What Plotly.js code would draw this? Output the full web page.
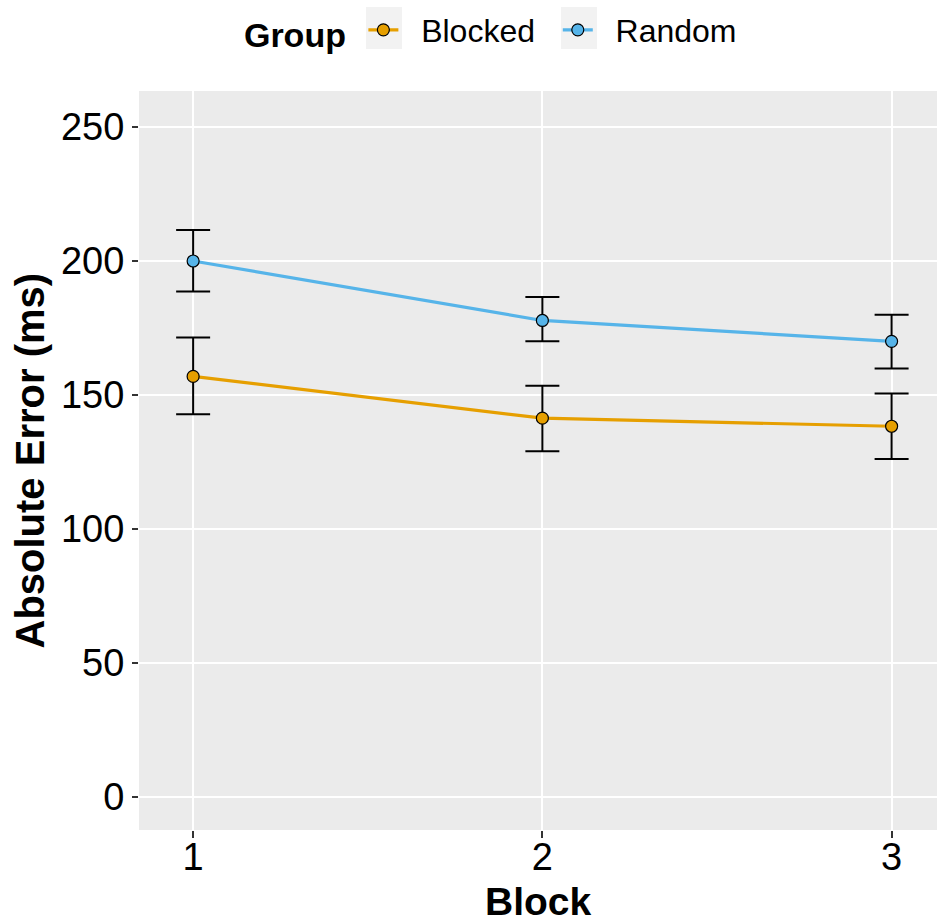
<!DOCTYPE html>
<html>
<head>
<meta charset="utf-8">
<script src="https://cdn.plot.ly/plotly-3.0.1.min.js"></script>
<style>html,body{margin:0;padding:0;background:#fff;}#chart{width:941px;height:922px;}</style>
</head>
<body>
<div id="chart"></div>
<script>
// Data
const blocks = [1, 2, 3];
const blockedMean = [156.9, 141.3, 138.3];
const blockedUpper = [171.4, 153.4, 150.5];
const blockedLower = [142.8, 129.0, 126.1];
const randomMean = [200.0, 177.8, 170.0];
const randomUpper = [211.6, 186.6, 179.9];
const randomLower = [188.6, 170.0, 159.9];
const yTicks = [0, 50, 100, 150, 200, 250];
const xTicks = [1, 2, 3];
const groupNames = ['Blocked', 'Random'];

const FONT = '"Liberation Sans", Arial, sans-serif';
const NB = '\u00a0';
const W = 941, H = 922, ML = 139, MR = 4, MT = 90, MB = 92;
const PW = W - ML - MR, PH = H - MT - MB;
const px2x = p => (p - ML) / PW;
const px2y = p => (H - MB - p) / PH;

function mkTrace(name, color, mean, upper, lower) {
  return {
    x: blocks, y: mean, name: NB + NB + name + NB + NB, type: 'scatter', mode: 'lines+markers',
    line: {color: color, width: 3.2},
    marker: {color: color, size: 12, line: {color: '#000', width: 1.2}},
    error_y: {
      type: 'data', symmetric: false,
      array: upper.map((u, i) => u - mean[i]),
      arrayminus: mean.map((m, i) => m - lower[i]),
      color: '#000', thickness: 2, width: 17
    }
  };
}

const data = [
  mkTrace(groupNames[0], '#E69F00', blockedMean, blockedUpper, blockedLower),
  mkTrace(groupNames[1], '#56B4E9', randomMean, randomUpper, randomLower)
];

const keyBox = (l, r) => ({type: 'rect', xref: 'paper', yref: 'paper', layer: 'below',
  x0: px2x(l), x1: px2x(r), y0: px2y(48), y1: px2y(6),
  fillcolor: '#F2F2F2', line: {width: 0}});

const layout = {
  width: W, height: H,
  margin: {l: ML, r: MR, t: MT, b: MB},
  paper_bgcolor: '#fff', plot_bgcolor: '#EBEBEB',
  font: {family: FONT, color: '#000'},
  showlegend: true,
  legend: {
    orientation: 'h', x: 0.129, xanchor: 'left', y: 1.081, yanchor: 'middle',
    yref: 'paper',
    font: {size: 32, family: FONT, color: '#000'},
    title: {text: '<b>Group</b>' + NB, font: {size: 34, family: FONT, color: '#000'}, side: 'left'},
    bgcolor: 'rgba(0,0,0,0)', tracegroupgap: 0
  },
  shapes: [keyBox(366, 402), keyBox(561, 597)],
  xaxis: {
    range: [0.845, 3.13], tickvals: xTicks, ticktext: xTicks.map(String),
    showgrid: true, gridcolor: '#fff', gridwidth: 2, zeroline: false,
    ticks: 'outside', ticklen: 7, tickwidth: 2, tickcolor: '#333',
    tickfont: {size: 38, family: FONT, color: '#000'},
    ticklabelstandoff: -14,
    showline: false
  },
  yaxis: {
    range: [-12.5, 263.5], tickvals: yTicks, ticktext: yTicks.map(String),
    showgrid: true, gridcolor: '#fff', gridwidth: 2, zeroline: false,
    ticks: 'outside', ticklen: 6, tickwidth: 2, tickcolor: '#333',
    tickfont: {size: 38, family: FONT, color: '#000'},
    showline: false
  },
  annotations: [
    {text: '<b>Absolute Error (ms)</b>', xref: 'paper', yref: 'paper', x: 0, y: 0.5,
     xanchor: 'center', yanchor: 'middle', xshift: -110, textangle: -90, showarrow: false,
     font: {size: 40, family: FONT, color: '#000'}},
    {text: '<b>Block</b>', xref: 'paper', yref: 'paper', x: 0.5, y: 0,
     xanchor: 'center', yanchor: 'middle', yshift: -71, showarrow: false,
     font: {size: 39, family: FONT, color: '#000'}}
  ]
};

Plotly.newPlot('chart', data, layout, {displayModeBar: false, staticPlot: true});
</script>
</body>
</html>
